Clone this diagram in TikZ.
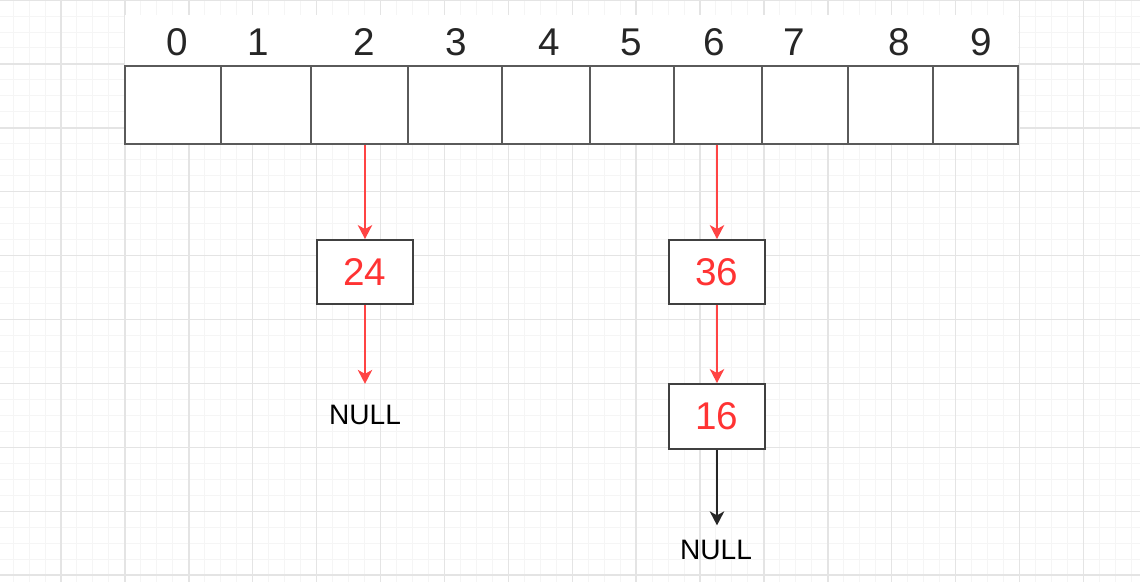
\documentclass[tikz,border=0pt]{standalone}
\usepackage{fontspec}
\setmainfont{Liberation Sans}
\usetikzlibrary{arrows.meta,positioning}
\definecolor{gridmajor}{HTML}{E4E4E4}
\definecolor{gridminor}{HTML}{F5F5F5}
\definecolor{keyred}{HTML}{FF3333}
\definecolor{ptrred}{HTML}{FF4444}
\definecolor{boxgray}{HTML}{5A5A5A}

\begin{document}
\begin{tikzpicture}[x=0.02cm, y=-0.02cm,
    cell/.style={draw=boxgray, line width=1.1pt, fill=white, inner sep=0pt, minimum height=1.56cm},
    idx/.style={font=\fontsize{22}{26}\selectfont, text=black!85},
    item/.style={draw=black!75, line width=1.1pt, fill=white, inner sep=0pt,
                 minimum width=1.92cm, minimum height=1.28cm,
                 font=\fontsize{22}{26}\selectfont, text=keyred},
    nulltxt/.style={font=\fontsize{16}{19}\selectfont, inner sep=0pt},
    ptr/.style={draw=ptrred, line width=0.9pt, -{Stealth[length=2.8mm,width=2.9mm,inset=0.8mm]}},
    endptr/.style={draw=black!85, line width=0.9pt, -{Stealth[length=2.8mm,width=2.9mm,inset=0.8mm]}}]
    \useasboundingbox (0,0) rectangle (1140,582);
    % background grid
    \foreach \k in {0,...,71}
        \draw[gridminor, line width=0.5pt] ({13+15.975*\k},0) -- ({13+15.975*\k},582);
    \foreach \k in {0,...,36}
        \draw[gridminor, line width=0.5pt] (0,{15.975*\k}) -- (1140,{15.975*\k});
    \foreach \k in {0,...,17}
        \draw[gridmajor, line width=0.8pt] ({-2.9+63.9*\k},0) -- ({-2.9+63.9*\k},582);
    \foreach \k in {0,...,9}
        \draw[gridmajor, line width=0.8pt] (0,{63.9*\k}) -- (1140,{63.9*\k});
    \fill[white] (125,15) rectangle (1018,66);

    % hash table
    \foreach \i/\a/\b/\lx in {0/125/221/177, 1/221/311/258, 2/311/408/364, 3/408/502/456,
                             4/502/590/549, 5/590/674/631, 6/674/762/714, 7/762/848/794,
                             8/848/933/899, 9/933/1018/981}{
        \node[cell, minimum width={(\b-\a)*0.02cm}] (c\i) at ({(\a+\b)/2},105) {};
        \node[idx] (l\i) at (\lx,42.5) {\i};
    }

    % chains
    \node[item] (n24) at (365,272) {24};
    \node[item] (n36) at (717,272) {36};
    \node[item, minimum height=1.3cm] (n16) at (717,416.5) {16};
    \node[nulltxt] (null1) at (365,415) {NULL};
    \node[nulltxt] (null2) at (716,550) {NULL};

    \draw[ptr] (n24 |- c2.south) -- (n24);
    \draw[ptr, shorten >=0.42cm] (n24) -- (null1);
    \draw[ptr] (n36 |- c6.south) -- (n36);
    \draw[ptr] (n36) -- (n16);
    \draw[endptr, shorten >=0.29cm] (n16.south) -- (null2.north -| n16);
\end{tikzpicture}
\end{document}
